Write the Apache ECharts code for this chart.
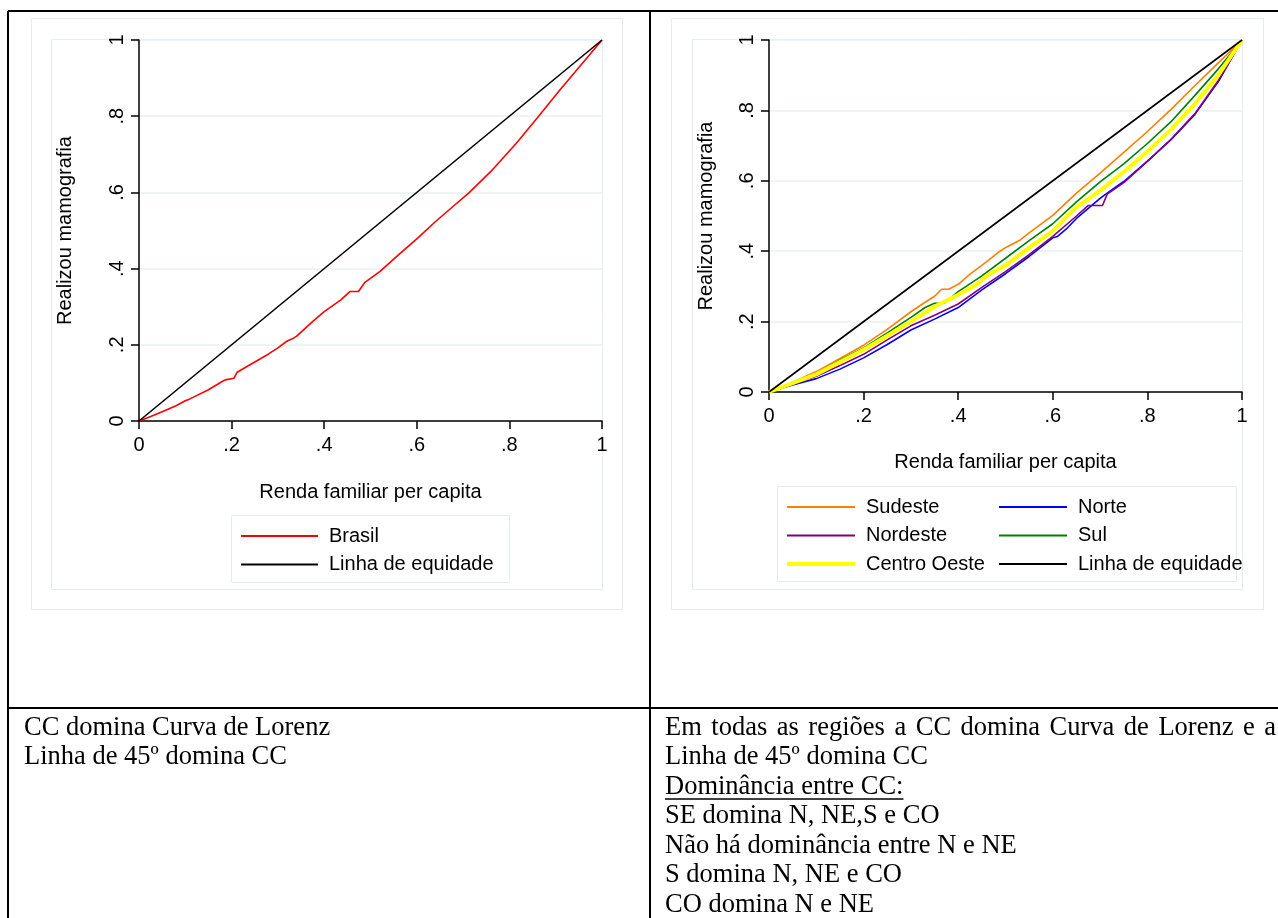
<!DOCTYPE html>
<html>
<head>
<meta charset="utf-8">
<title>Curvas de concentração - mamografia</title>
<script src="https://cdn.jsdelivr.net/npm/echarts@6/dist/echarts.min.js"></script>
<style>
    html, body { margin: 0; padding: 0; background: #fff; }
    #chart { width: 1278px; height: 918px; }
</style>
</head>
<body>
<div id="chart"></div>
<script>
// valores: [renda acumulada, mamografia acumulada]
var tickVals = [0, 0.2, 0.4, 0.6, 0.8, 1];
var equidade = [[0, 0], [1, 1]];

var brasil = [[0, 0], [0.02, 0.009], [0.05, 0.024], [0.08, 0.04], [0.1, 0.053], [0.11, 0.058], [0.15, 0.082],
    [0.176, 0.101], [0.186, 0.108], [0.19, 0.112], [0.205, 0.112], [0.212, 0.128], [0.25, 0.155], [0.28, 0.176],
    [0.3, 0.192], [0.32, 0.21], [0.33, 0.215], [0.34, 0.222], [0.376, 0.262], [0.4, 0.287], [0.436, 0.318],
    [0.456, 0.34], [0.474, 0.34], [0.488, 0.364], [0.52, 0.392], [0.564, 0.44], [0.6, 0.478], [0.64, 0.523],
    [0.68, 0.565], [0.712, 0.598], [0.76, 0.655], [0.815, 0.729], [0.86, 0.795], [0.909, 0.869], [0.955, 0.935], [1, 1]];

var sudeste = [[0, 0], [0.05, 0.028], [0.1, 0.058], [0.15, 0.095], [0.2, 0.133], [0.25, 0.178], [0.3, 0.228],
    [0.33, 0.255], [0.35, 0.272], [0.365, 0.292], [0.38, 0.292], [0.4, 0.306], [0.425, 0.335], [0.45, 0.36],
    [0.485, 0.397], [0.5, 0.41], [0.531, 0.432], [0.55, 0.452], [0.6, 0.502], [0.65, 0.565], [0.7, 0.622],
    [0.75, 0.681], [0.8, 0.74], [0.85, 0.803], [0.9, 0.87], [0.95, 0.935], [1, 1]];

var norte = [[0, 0], [0.05, 0.02], [0.1, 0.038], [0.15, 0.065], [0.2, 0.097], [0.25, 0.135], [0.3, 0.176],
    [0.35, 0.207], [0.4, 0.24], [0.45, 0.29], [0.5, 0.336], [0.55, 0.385], [0.6, 0.438], [0.61, 0.442],
    [0.63, 0.465], [0.65, 0.493], [0.7, 0.55], [0.72, 0.57], [0.75, 0.598], [0.8, 0.656], [0.85, 0.717],
    [0.9, 0.788], [0.95, 0.882], [1, 1]];

var nordeste = [[0, 0], [0.05, 0.022], [0.1, 0.045], [0.15, 0.075], [0.2, 0.107], [0.25, 0.148], [0.3, 0.188],
    [0.35, 0.218], [0.4, 0.25], [0.45, 0.297], [0.5, 0.342], [0.55, 0.39], [0.6, 0.442], [0.65, 0.5],
    [0.675, 0.53], [0.705, 0.53], [0.715, 0.562], [0.75, 0.595], [0.8, 0.655], [0.85, 0.718], [0.9, 0.79],
    [0.95, 0.885], [1, 1]];

var sul = [[0, 0], [0.05, 0.026], [0.1, 0.052], [0.15, 0.09], [0.2, 0.125], [0.25, 0.168], [0.3, 0.212],
    [0.33, 0.24], [0.35, 0.252], [0.37, 0.252], [0.4, 0.285], [0.45, 0.33], [0.5, 0.38], [0.55, 0.43],
    [0.6, 0.478], [0.65, 0.54], [0.7, 0.597], [0.75, 0.648], [0.8, 0.706], [0.85, 0.768], [0.9, 0.842],
    [0.95, 0.918], [1, 1]];

var centroOeste = [[0, 0], [0.05, 0.025], [0.1, 0.05], [0.15, 0.085], [0.2, 0.12], [0.25, 0.16], [0.3, 0.2],
    [0.35, 0.243], [0.4, 0.276], [0.44, 0.306], [0.46, 0.33], [0.5, 0.36], [0.55, 0.41], [0.6, 0.457],
    [0.65, 0.525], [0.7, 0.572], [0.75, 0.625], [0.8, 0.683], [0.85, 0.746], [0.9, 0.818], [0.95, 0.9], [1, 1]];

var textoEsq = ['CC domina Curva de Lorenz', 'Linha de 45º domina CC'];
var textoDir = ['Em todas as regiões a CC domina Curva de Lorenz e a', 'Linha de 45º domina CC',
    'Dominância entre CC:', 'SE domina N, NE,S e CO', 'Não há dominância entre N e NE',
    'S domina N, NE e CO', 'CO domina N e NE'];

var sans = '"Liberation Sans", Arial, sans-serif';
var serifFont = '26.5px "Liberation Serif", "Times New Roman", serif';
var lightLine = '#e4edef';

function fmtTick(v) {
    if (v === 0) return '0';
    if (v === 1) return '1';
    return (+v.toFixed(1)).toString().replace(/^0/, '');
}

function makeX(grid, gap) {
    return {
        type: 'value', gridIndex: grid, min: 0, max: 1, interval: 0.2,
        name: 'Renda familiar per capita', nameLocation: 'middle', nameGap: gap,
        nameTextStyle: { color: '#000', fontSize: 20, fontFamily: sans },
        axisLine: { show: true, onZero: false, lineStyle: { color: '#000', width: 1.5 } },
        axisTick: { show: true, length: 8, lineStyle: { color: '#000', width: 1.5 } },
        axisLabel: { color: '#000', fontSize: 20, fontFamily: sans, margin: 14, formatter: fmtTick },
        splitLine: { show: false }
    };
}

function makeY(grid, gap) {
    return {
        type: 'value', gridIndex: grid, min: 0, max: 1, interval: 0.2,
        name: 'Realizou mamografia', nameLocation: 'middle', nameGap: gap, nameRotate: 90,
        nameTextStyle: { color: '#000', fontSize: 20, fontFamily: sans },
        axisLine: { show: true, onZero: false, lineStyle: { color: '#000', width: 1.5 } },
        axisTick: { show: true, length: 8, lineStyle: { color: '#000', width: 1.5 } },
        axisLabel: { color: '#000', fontSize: 20, fontFamily: sans, margin: 12, rotate: 90, formatter: fmtTick },
        splitLine: { show: true, lineStyle: { color: '#eaf2f3', width: 1.5 } }
    };
}

function serie(name, data, grid, color, width) {
    return {
        name: name, type: 'line', data: data, xAxisIndex: grid, yAxisIndex: grid,
        symbol: 'none', showSymbol: false, silent: true,
        lineStyle: { color: color, width: width }, itemStyle: { color: color }
    };
}

function legenda(names, left, top, w) {
    return {
        data: names, orient: 'vertical', left: left, top: top, padding: 0,
        itemWidth: w, itemHeight: 14, itemGap: 8.5, selectedMode: false,
        itemStyle: { opacity: 0 },
        textStyle: { color: '#000', fontSize: 20, fontFamily: sans, lineHeight: 20, padding: [0, 0, 0, 6] }
    };
}

// linhas da tabela, molduras cinza claro e textos
var graficos = [];
function linha(x1, y1, x2, y2, w, color) {
    graficos.push({ type: 'line', z: 0, shape: { x1: x1, y1: y1, x2: x2, y2: y2 }, style: { stroke: color, lineWidth: w } });
}
function caixa(x, y, w, h) {
    graficos.push({ type: 'rect', z: 0, shape: { x: x, y: y, width: w, height: h }, style: { fill: null, stroke: lightLine, lineWidth: 1 } });
}
function texto(t, x, y) {
    graficos.push({ type: 'text', x: x, y: y, style: { text: t, font: serifFont, fill: '#000', verticalAlign: 'middle' } });
}
linha(8, 11, 1278, 11, 2, '#000');
linha(8, 11, 8, 918, 2, '#000');
linha(650, 11, 650, 918, 2, '#000');
linha(8, 708, 1278, 708, 2, '#000');
caixa(31.5, 18.5, 591, 591);
caixa(51.5, 39.5, 551, 550);
caixa(231.5, 515.5, 278, 67);
caixa(671.5, 18.5, 592, 591);
caixa(692.5, 39.5, 550, 550);
caixa(777.5, 486.5, 459, 95);

var ctx = document.createElement('canvas').getContext('2d');
ctx.font = serifFont;
var y0 = 728, passo = 29.5;

textoEsq.forEach(function (t, i) { texto(t, 24, y0 + i * passo); });
textoDir.forEach(function (t, i) {
    if (i === 0) {
        // primeira linha justificada ate a borda direita
        var palavras = t.split(' ');
        var soma = 0;
        palavras.forEach(function (p) { soma += ctx.measureText(p).width; });
        var esp = (1276 - 665 - soma) / (palavras.length - 1);
        var x = 665;
        palavras.forEach(function (p) { texto(p, x, y0); x += ctx.measureText(p).width + esp; });
    } else {
        texto(t, 665, y0 + i * passo);
    }
});
// sublinhado de "Dominância entre CC:"
var larg = ctx.measureText(textoDir[2]).width;
linha(665, y0 + 2 * passo + 12, 665 + larg, y0 + 2 * passo + 12, 1.3, '#000');

var option = {
    animation: false,
    backgroundColor: '#fff',
    grid: [
        { left: 139, top: 40, width: 463, height: 381 },
        { left: 769, top: 40, width: 473, height: 352 }
    ],
    xAxis: [makeX(0, 61), makeX(1, 60)],
    yAxis: [makeY(0, 64), makeY(1, 53)],
    legend: [
        legenda(['Brasil', 'Linha de equidade'], 240, 526, 77),
        legenda(['Sudeste', 'Nordeste', { name: 'Centro Oeste', lineStyle: { width: 4 } }], 785, 497, 68),
        legenda(['Norte', 'Sul', 'Linha de equidade '], 998, 497, 68)
    ],
    graphic: { elements: graficos },
    series: [
        serie('Brasil', brasil, 0, '#ff0000', 1.6),
        serie('Linha de equidade', equidade, 0, '#000000', 1.6),
        serie('Sudeste', sudeste, 1, '#ff8000', 1.6),
        serie('Norte', norte, 1, '#0000ff', 1.6),
        serie('Nordeste', nordeste, 1, '#800080', 1.6),
        serie('Sul', sul, 1, '#008000', 1.6),
        serie('Centro Oeste', centroOeste, 1, '#ffff00', 4),
        serie('Linha de equidade ', equidade, 1, '#000000', 1.6)
    ]
};

var myChart = echarts.init(document.getElementById('chart'));
myChart.setOption(option);
</script>
</body>
</html>
